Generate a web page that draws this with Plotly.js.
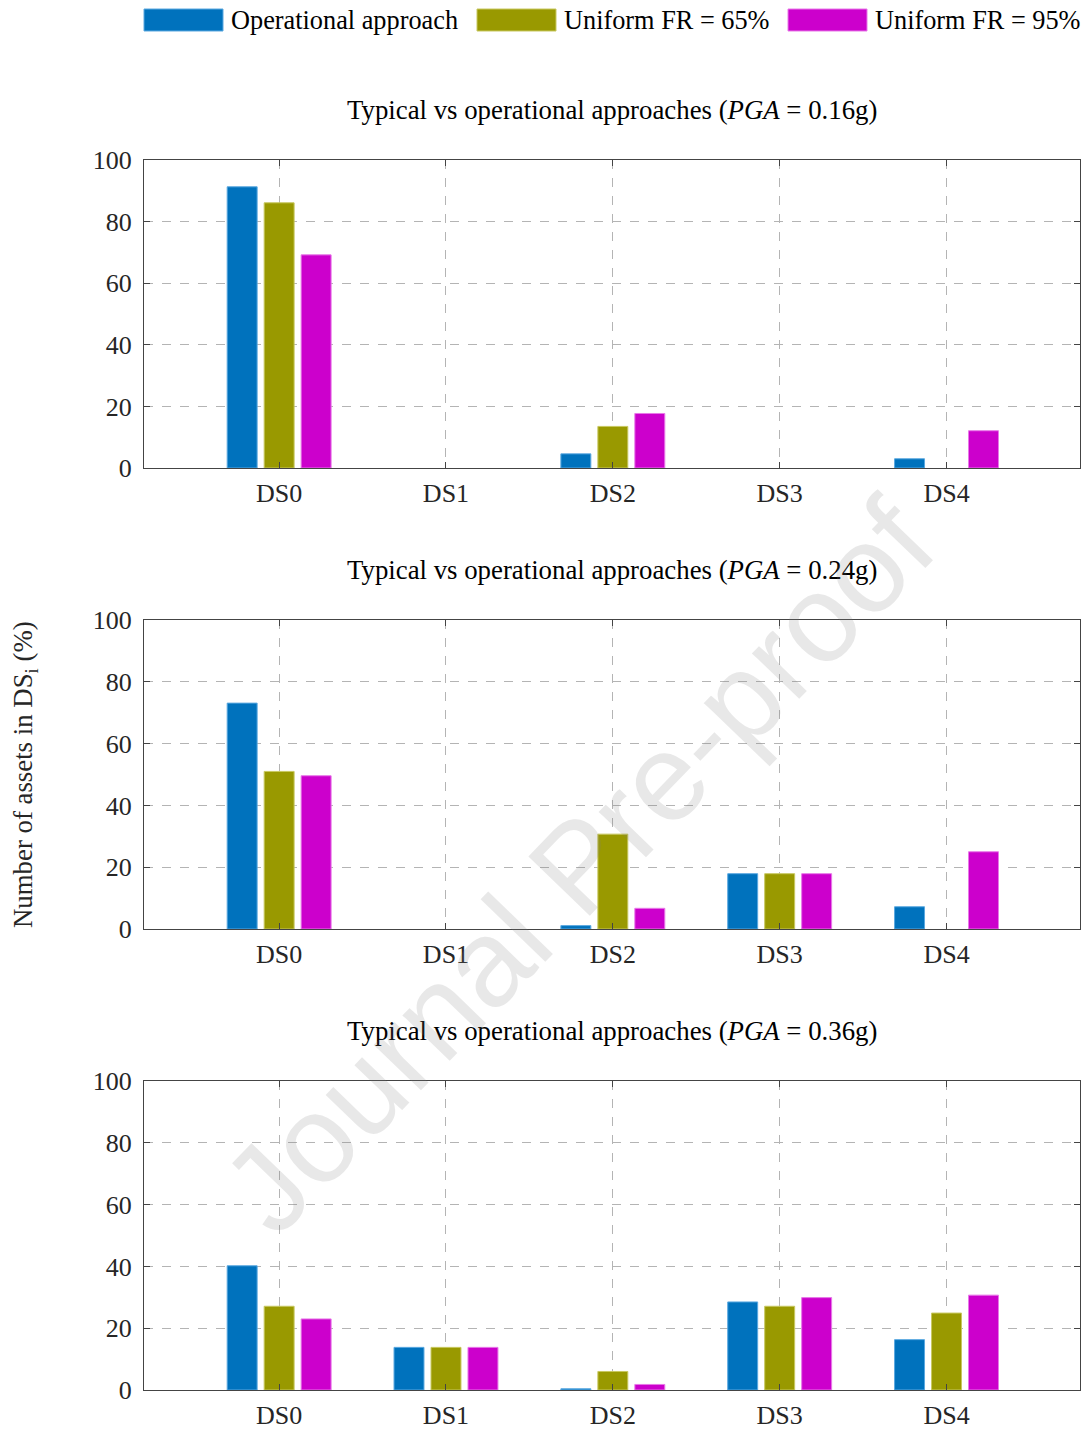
<!DOCTYPE html>
<html>
<head>
<meta charset="utf-8">
<script src="https://cdn.plot.ly/plotly-3.0.1.min.js"></script>
<style>html,body{margin:0;padding:0;background:#fff;}</style>
</head>
<body>
<div id="chart" style="width:1086px;height:1430px;"></div>
<script>
// ---- data ----
const categories = ['DS0', 'DS1', 'DS2', 'DS3', 'DS4'];
const seriesNames = ['Operational approach', 'Uniform FR = 65%', 'Uniform FR = 95%'];
const pgaLabels = ['0.16g', '0.24g', '0.36g'];

const operational_016 = [91.3, 0, 4.6, 0, 3.0];
const fr65_016 = [86.1, 0, 13.5, 0, 0];
const fr95_016 = [69.2, 0, 17.7, 0, 12.1];

const operational_024 = [73.1, 0, 1.1, 17.9, 7.2];
const fr65_024 = [51.0, 0, 30.7, 17.9, 0];
const fr95_024 = [49.6, 0, 6.7, 17.9, 25.0];

const operational_036 = [40.2, 13.8, 0.4, 28.5, 16.3];
const fr65_036 = [27.1, 13.8, 6.0, 27.1, 24.9];
const fr95_036 = [23.0, 13.8, 1.8, 29.9, 30.7];

const yTicks = [0, 20, 40, 60, 80, 100];

// ---- styles ----
const colors = ['#0072BD', '#999900', '#CC00CC'];
const edgeColors = ['#5aa8e0', '#c8c860', '#e878e8'];
const FONT = 'Liberation Serif, Times New Roman, serif';
const FS = 26;
const FS_T = 26.8;
const FS_L = 26.3;

const panels = [
  [operational_016, fr65_016, fr95_016],
  [operational_024, fr65_024, fr95_024],
  [operational_036, fr65_036, fr95_036]
];

const traces = [];
panels.forEach((p, i) => {
  const sfx = i === 0 ? '' : String(i + 1);
  p.forEach((vals, j) => {
    traces.push({
      type: 'bar',
      x: categories,
      y: vals,
      name: seriesNames[j],
      xaxis: 'x' + sfx,
      yaxis: 'y' + sfx,
      showlegend: false,
      marker: {color: colors[j], line: {color: edgeColors[j], width: vals.map(v => v > 0 ? 1 : 0)}},
      hoverinfo: 'x+y+name'
    });
  });
});

const PH = 1410; // plot-area height (1430 minus bottom margin)
const py = (px) => (PH - px) / PH;
const yDomains = [
  [py(468), py(160)],
  [py(929), py(620)],
  [py(1390), py(1081)]
];
const titleY = [py(110), py(570), py(1031)];

const layout = {
  width: 1086,
  height: 1430,
  margin: {l: 144, r: 6, t: 0, b: 20},
  paper_bgcolor: '#ffffff',
  plot_bgcolor: '#ffffff',
  barmode: 'group',
  bargap: 0.335,
  bargroupgap: 0.19,
  font: {family: FONT, size: FS, color: '#262626'},
  annotations: [],
  shapes: []
};

for (let i = 0; i < 3; i++) {
  const sfx = i === 0 ? '' : String(i + 1);
  layout['xaxis' + sfx] = {
    domain: [0, 1],
    anchor: 'y' + sfx,
    type: 'category',
    range: [-0.81, 4.8],
    showgrid: true,
    gridcolor: '#b4b4b4',
    griddash: 'dash',
    gridwidth: 1,
    showline: true,
    linecolor: '#444444',
    linewidth: 1,
    mirror: 'ticks',
    ticks: 'inside',
    ticklen: 6,
    tickcolor: '#444444',
    ticklabelstandoff: 2,
    tickfont: {family: FONT, size: FS, color: '#262626'},
    zeroline: false,
    automargin: false,
    fixedrange: true
  };
  layout['yaxis' + sfx] = {
    domain: yDomains[i],
    anchor: 'x' + sfx,
    range: [0, 100],
    tickvals: yTicks,
    ticktext: yTicks.map(String),
    showgrid: true,
    gridcolor: '#b4b4b4',
    griddash: 'dash',
    gridwidth: 1,
    showline: true,
    linecolor: '#444444',
    linewidth: 1,
    mirror: 'ticks',
    ticks: 'inside',
    ticklen: 6,
    tickcolor: '#444444',
    ticklabelstandoff: 6,
    tickfont: {family: FONT, size: FS, color: '#262626'},
    zeroline: false,
    automargin: false,
    fixedrange: true
  };
  layout.annotations.push({
    xref: 'paper', yref: 'paper',
    x: 0.5, y: titleY[i],
    xanchor: 'center', yanchor: 'middle',
    showarrow: false,
    text: 'Typical vs operational approaches (<i>PGA</i> = ' + pgaLabels[i] + ')',
    font: {family: FONT, size: FS_T, color: '#000000'}
  });
}

// y-axis title shared
layout.annotations.push({
  xref: 'paper', yref: 'paper',
  x: (25 - 144) / 936, y: py(775),
  xanchor: 'center', yanchor: 'middle',
  textangle: -90,
  showarrow: false,
  text: 'Number of assets in DS<sub>i</sub> (%)',
  font: {family: FONT, size: FS_T, color: '#262626'}
});

// legend (manual, wide swatches)
const legSw = [[144, 223], [477, 556], [788, 867]];
const legTx = [229, 562, 873];
for (let j = 0; j < 3; j++) {
  layout.shapes.push({
    type: 'rect', xref: 'paper', yref: 'paper',
    x0: (legSw[j][0] - 144) / 936, x1: (legSw[j][1] - 144) / 936,
    y0: py(31), y1: py(9),
    fillcolor: colors[j],
    line: {color: edgeColors[j], width: 1}
  });
  layout.annotations.push({
    xref: 'paper', yref: 'paper',
    x: (legTx[j] - 144) / 936, y: py(20),
    xanchor: 'left', yanchor: 'middle',
    showarrow: false,
    text: seriesNames[j],
    font: {family: FONT, size: FS_L, color: '#000000'}
  });
}

// watermark
layout.annotations.push({
  xref: 'paper', yref: 'paper',
  x: (578 - 144) / 936, y: py(866),
  xanchor: 'center', yanchor: 'middle',
  textangle: -46,
  showarrow: false,
  text: 'Journal Pre-proof',
  font: {family: 'Liberation Sans, Arial, sans-serif', size: 124, color: 'rgba(128,128,128,0.18)'}
});

Plotly.newPlot('chart', traces, layout, {displayModeBar: false, staticPlot: true});
</script>
</body>
</html>
